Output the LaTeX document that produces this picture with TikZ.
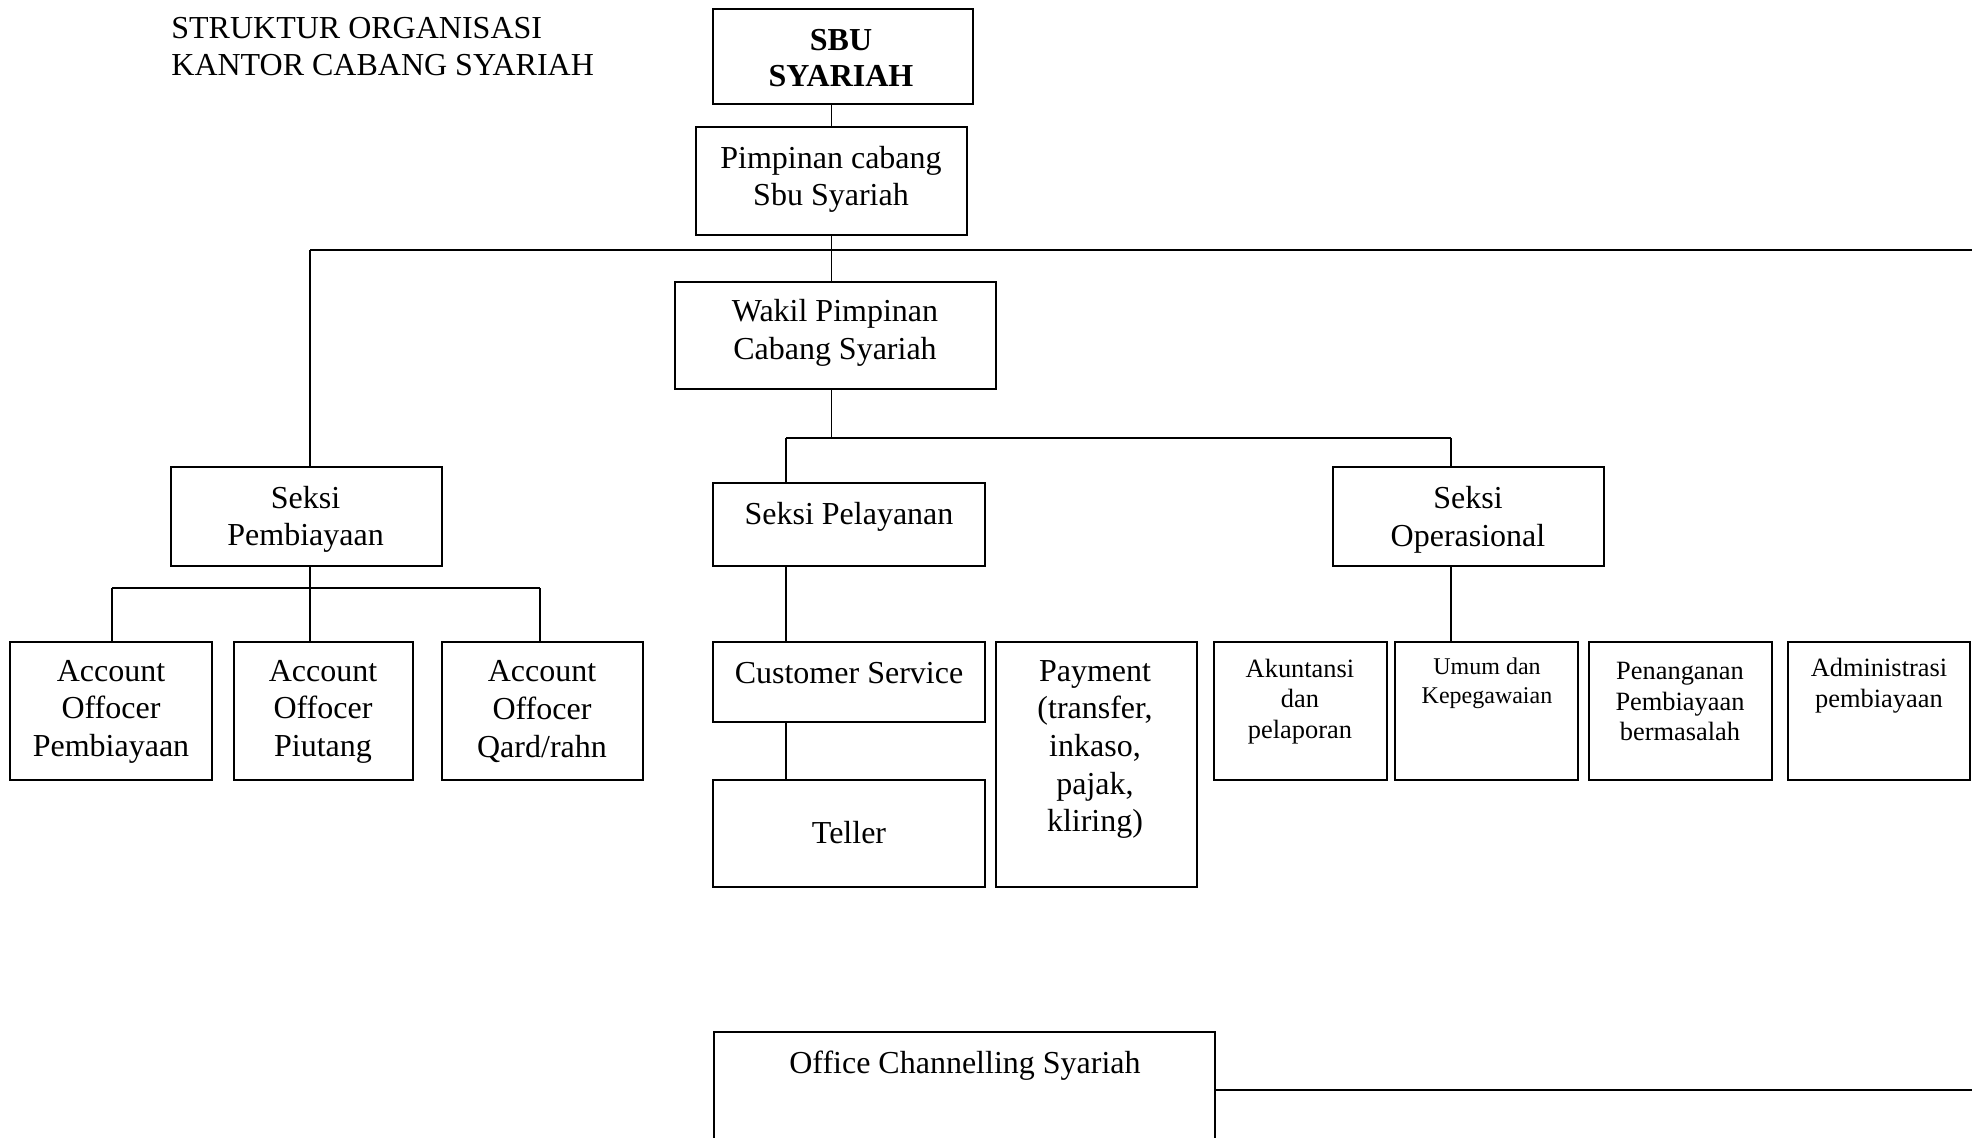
\documentclass[tikz,border=0pt]{standalone}
\usepackage{fontspec}
\setmainfont{Liberation Serif}
\begin{document}
\begin{tikzpicture}[x=0.5pt,y=-0.5pt,
  box/.style={draw, line width=0.8pt, inner sep=0pt},
  conn/.style={line width=0.6pt},
  bus/.style={line width=1.1pt},
  txt/.style={inner sep=0pt, align=center, font=\fontsize{16}{18.8}\selectfont},
  txtb/.style={inner sep=0pt, align=center, font=\fontsize{16}{18.2}\selectfont\bfseries},
  txts/.style={inner sep=0pt, align=center, font=\fontsize{13.2}{15.4}\selectfont},
  txtxs/.style={inner sep=0pt, align=center, font=\fontsize{12}{14.5}\selectfont}]
\newcommand{\bx}[5]{\node[box, minimum width={#4*0.5pt}, minimum height={#5*0.5pt}] (#1) at (#2,#3) {};}
\clip (0,0) rectangle (1972,1137);
\fill[white] (0,0) rectangle (1972,1137);
% title
\node[inner sep=0pt, anchor=west, align=left, font=\fontsize{16}{18.4}\selectfont] (title) at (171,46.5) {STRUKTUR ORGANISASI\\KANTOR CABANG SYARIAH};
% boxes
\bx{sbu}{843}{56.5}{260}{95}
\bx{pim}{831.5}{181}{271}{108}
\bx{wak}{835.5}{335.5}{321}{107}
\bx{spb}{306.5}{516.5}{271}{99}
\bx{spl}{849}{524.5}{272}{83}
\bx{sop}{1468.5}{516.5}{271}{99}
\bx{ao1}{111}{711}{202}{138}
\bx{ao2}{323.5}{711}{179}{138}
\bx{ao3}{542.5}{711}{201}{138}
\bx{cs}{849}{682}{272}{80}
\bx{tel}{849}{833.5}{272}{107}
\bx{pay}{1096.5}{764.5}{201}{245}
\bx{aku}{1300.5}{711}{173}{138}
\bx{umu}{1486.5}{711}{183}{138}
\bx{pen}{1680.5}{711}{183}{138}
\bx{adm}{1879}{711}{182}{138}
\bx{off}{964.5}{1096}{501}{128}
% texts
\node[txtb] (tsbu) at (841,58) {SBU\\SYARIAH};
\node[txt] (tpim) at (831,179.5) {Pimpinan cabang\\Sbu Syariah};
\node[txt] (twak) at (835,333) {Wakil Pimpinan\\Cabang Syariah};
\node[txt] (tspb) at (305.6,519.5) {Seksi\\Pembiayaan};
\node[txt] (tspl) at (849,516.5) {Seksi Pelayanan};
\node[txt] (tsop) at (1468,519.5) {Seksi\\Operasional};
\node[txt] (tao1) at (111,711.5) {Account\\Offocer\\Pembiayaan};
\node[txt] (tao2) at (323,711.5) {Account\\Offocer\\Piutang};
\node[txt] (tao3) at (542,711.5) {Account\\Offocer\\Qard/rahn};
\node[txt] (tcs) at (849,673.5) {Customer Service};
\node[txt] (ttel) at (849,832.5) {Teller};
\node[txt] (tpay) at (1095,749.5) {Payment\\(transfer,\\inkaso,\\pajak,\\kliring)};
\node[txts] (taku) at (1300,701.5) {Akuntansi\\dan\\pelaporan};
\node[txtxs] (tumu) at (1487,683) {Umum dan\\Kepegawaian};
\node[txts] (tpen) at (1680,701.5) {Penanganan\\Pembiayaan\\bermasalah};
\node[txts] (tadm) at (1879,686) {Administrasi\\pembiayaan};
\node[txt] (toff) at (965,1065.5) {Office Channelling Syariah};
% connectors
\coordinate (b1L) at (310,250);
\coordinate (b1R) at (1972,250);
\coordinate (b2L) at (786,438);
\coordinate (b2R) at (1451,438);
\coordinate (b3L) at (112,588);
\coordinate (b3R) at (540,588);
\coordinate (b3M) at (310,588);
\coordinate (oR) at (1972,1090);
\draw[conn] (pim.north) -- (pim.north |- sbu.south);
\draw[conn] (pim.south) -- (pim.south |- wak.north);
\draw[bus] (b1L) -- (b1R);
\draw[conn] (b1L) -- (b1L |- spb.north);
\draw[conn] (pim.south |- wak.south) -- (pim.south |- b2L);
\draw[conn] (b2L) -- (b2R);
\draw[conn] (b2L) -- (b2L |- spl.north);
\draw[conn] (b2R) -- (b2R |- sop.north);
\draw[conn] (b2L |- spl.south) -- (b2L |- cs.north);
\draw[conn] (b2L |- cs.south) -- (b2L |- tel.north);
\draw[conn] (b2R |- sop.south) -- (b2R |- umu.north);
\draw[conn] (b3M |- spb.south) -- (b3M);
\draw[conn] (b3L) -- (b3R);
\draw[conn] (b3L) -- (b3L |- ao1.north);
\draw[conn] (b3M) -- (b3M |- ao2.north);
\draw[conn] (b3R) -- (b3R |- ao3.north);
\draw[bus] (off.east |- oR) -- (oR);
\end{tikzpicture}
\end{document}
